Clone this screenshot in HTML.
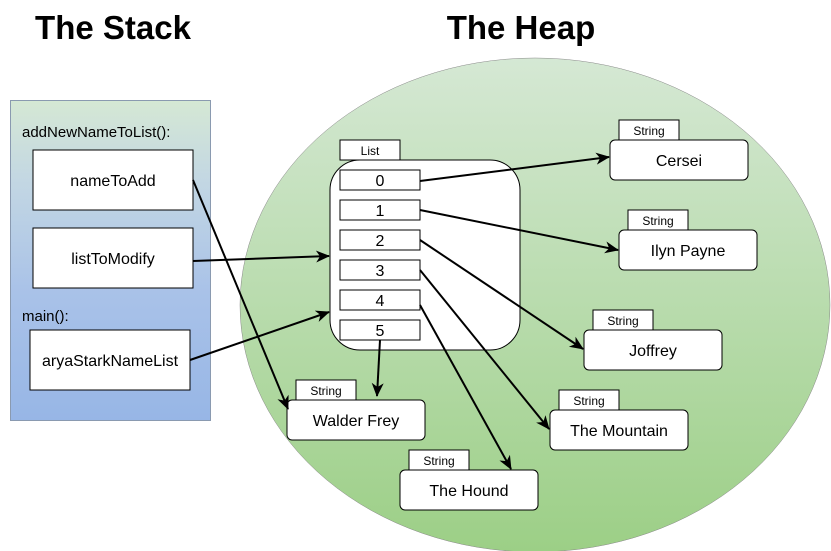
<!DOCTYPE html>
<html><head><style>body{margin:0;background:#fff}svg{display:block}text{font-family:"Liberation Sans",sans-serif}</style></head><body>
<svg width="831" height="551" viewBox="0 0 831 551" xmlns="http://www.w3.org/2000/svg">
<defs>
<linearGradient id="g" x1="0" y1="0" x2="0" y2="1"><stop offset="0" stop-color="#d5e8d4"/><stop offset="0.25" stop-color="#c3d7e3"/><stop offset="0.6" stop-color="#a9c2e8"/><stop offset="1" stop-color="#97b6e6"/></linearGradient>
<linearGradient id="h" x1="0" y1="0" x2="0" y2="1"><stop offset="0" stop-color="#d5e8d4"/><stop offset="1" stop-color="#9ccf86"/></linearGradient>
<marker id="a" markerWidth="14" markerHeight="14" refX="13" refY="7" orient="auto" markerUnits="userSpaceOnUse"><path d="M0,1 L14,7 L0,13 L4,7 z" fill="#000"/></marker>
</defs>
<text x="113" y="39" font-size="33" font-weight="bold" text-anchor="middle">The Stack</text>
<text x="521" y="39" font-size="33" font-weight="bold" text-anchor="middle">The Heap</text>
<ellipse cx="535" cy="305" rx="295" ry="247" fill="url(#h)" stroke="#888" stroke-width="0.5"/>
<rect x="10.5" y="100.5" width="200" height="320" fill="url(#g)" stroke="#8a9ab0"/>
<text x="22" y="137" font-size="15">addNewNameToList():</text>
<text x="22" y="321" font-size="15">main():</text>
<g fill="#fff" stroke="#000">
<rect x="33" y="150" width="160" height="60"/><rect x="33" y="228" width="160" height="60"/><rect x="30" y="330" width="160" height="60"/>
<rect x="340" y="140" width="60" height="20"/>
<rect x="330" y="160" width="190" height="190" rx="30"/>
<rect x="340" y="170" width="80" height="20"/><rect x="340" y="200" width="80" height="20"/><rect x="340" y="230" width="80" height="20"/><rect x="340" y="260" width="80" height="20"/><rect x="340" y="290" width="80" height="20"/><rect x="340" y="320" width="80" height="20"/>
<rect x="619" y="120" width="60" height="20"/><rect x="610" y="140" width="138" height="40" rx="5"/>
<rect x="628" y="210" width="60" height="20"/><rect x="619" y="230" width="138" height="40" rx="5"/>
<rect x="593" y="310" width="60" height="20"/><rect x="584" y="330" width="138" height="40" rx="5"/>
<rect x="559" y="390" width="60" height="20"/><rect x="550" y="410" width="138" height="40" rx="5"/>
<rect x="409" y="450" width="60" height="20"/><rect x="400" y="470" width="138" height="40" rx="5"/>
<rect x="296" y="380" width="60" height="20"/><rect x="287" y="400" width="138" height="40" rx="5"/>
</g>
<g font-size="16" text-anchor="middle">
<text x="113" y="186">nameToAdd</text><text x="113" y="264">listToModify</text><text x="110" y="366">aryaStarkNameList</text>
<text x="380" y="186">0</text><text x="380" y="216">1</text><text x="380" y="246">2</text><text x="380" y="276">3</text><text x="380" y="306">4</text><text x="380" y="336">5</text>
<text x="679" y="166">Cersei</text><text x="688" y="256">Ilyn Payne</text><text x="653" y="356">Joffrey</text><text x="619" y="436">The Mountain</text><text x="469" y="496">The Hound</text><text x="356" y="426">Walder Frey</text>
</g>
<g font-size="12" text-anchor="middle">
<text x="370" y="155">List</text><text x="649" y="135">String</text><text x="658" y="225">String</text><text x="623" y="325">String</text><text x="589" y="405">String</text><text x="439" y="465">String</text><text x="326" y="395">String</text>
</g>
<g stroke="#000" stroke-width="2" marker-end="url(#a)" fill="none">
<line x1="420" y1="181" x2="609" y2="157"/>
<line x1="420" y1="210" x2="618" y2="250"/>
<line x1="420" y1="240" x2="583" y2="349"/>
<line x1="420" y1="270" x2="549" y2="429"/>
<line x1="420" y1="305" x2="511" y2="469"/>
<line x1="380" y1="340" x2="377" y2="396"/>
<line x1="193" y1="180" x2="288" y2="409"/>
<line x1="193" y1="261" x2="329" y2="256"/>
<line x1="190" y1="360" x2="329" y2="312"/>
</g>
</svg>
</body></html>
